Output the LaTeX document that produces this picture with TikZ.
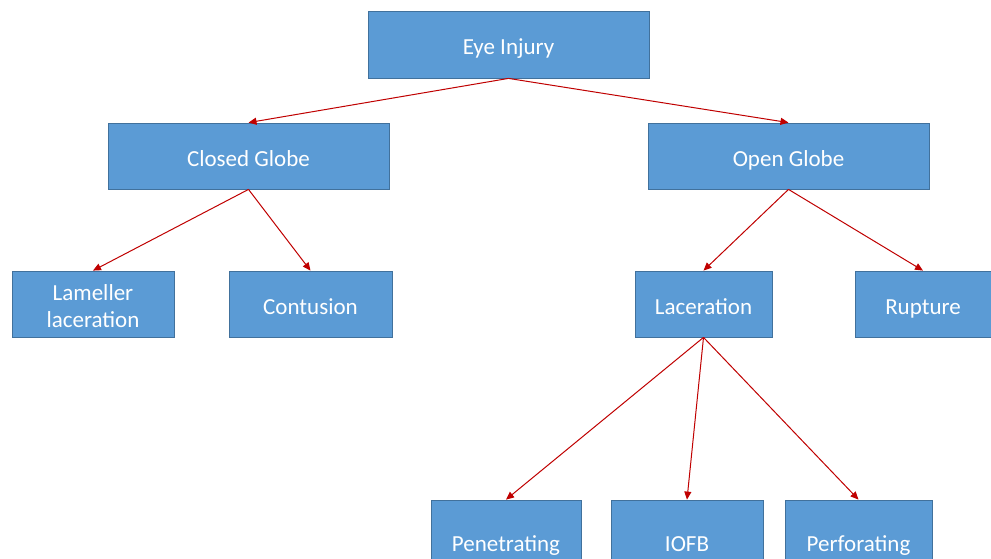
\documentclass[tikz,border=0pt]{standalone}
\usepackage{fontspec}
\setmainfont{Carlito}
\usetikzlibrary{arrows.meta}
\definecolor{boxblue}{HTML}{5B9BD5}
\definecolor{boxedge}{HTML}{41719C}
\definecolor{arrred}{HTML}{C00000}
\tikzset{
  box/.style={rectangle, fill=boxblue, draw=boxedge, line width=0.8pt,
    text=white, font=\fontsize{23}{27}\selectfont, align=center, inner sep=0pt},
  one/.style={text height=24pt, text depth=3.2pt},
  link/.style={draw=arrred, line width=1pt, -{Triangle[length=8pt,width=7pt]}}
}
\begin{document}
\begin{tikzpicture}[x=1pt,y=-1pt]
\useasboundingbox (0,0) rectangle (991,558);
\clip (0,0) rectangle (991,558);
\fill[white] (0,0) rectangle (991,558);
\node[box, one, minimum width=281, minimum height=67] (eye) at (508.5,44.5) {Eye Injury};
\node[box, one, minimum width=281, minimum height=66] (closed) at (248.5,156) {Closed Globe};
\node[box, one, minimum width=281, minimum height=66] (open) at (788.5,156) {Open Globe};
\node[box, minimum width=162, minimum height=66] (lam) at (93,304) {\rule{0pt}{20pt}Lameller\\[0pt]laceration};
\node[box, one, minimum width=163, minimum height=66] (cont) at (310.5,304) {Contusion};
\node[box, one, minimum width=137, minimum height=66] (lac) at (703.5,304) {Laceration};
\node[box, one, minimum width=136, minimum height=66] (rup) at (923,304) {Rupture};
\node[box, one, minimum width=150, minimum height=82] (pen) at (506,541) {Penetrating};
\node[box, one, minimum width=152, minimum height=82] (iofb) at (687,541) {IOFB};
\node[box, one, minimum width=147, minimum height=82] (perf) at (858.5,541) {Perforating};
\draw[link] (eye.south) -- (closed.north);
\draw[link] (eye.south) -- (open.north);
\draw[link] (closed.south) -- (lam.north);
\draw[link] (closed.south) -- (cont.north);
\draw[link] (open.south) -- (lac.north);
\draw[link] (open.south) -- (rup.north);
\draw[link] (lac.south) -- (pen.north);
\draw[link] (lac.south) -- (iofb.north);
\draw[link] (lac.south) -- (perf.north);
\end{tikzpicture}
\end{document}
